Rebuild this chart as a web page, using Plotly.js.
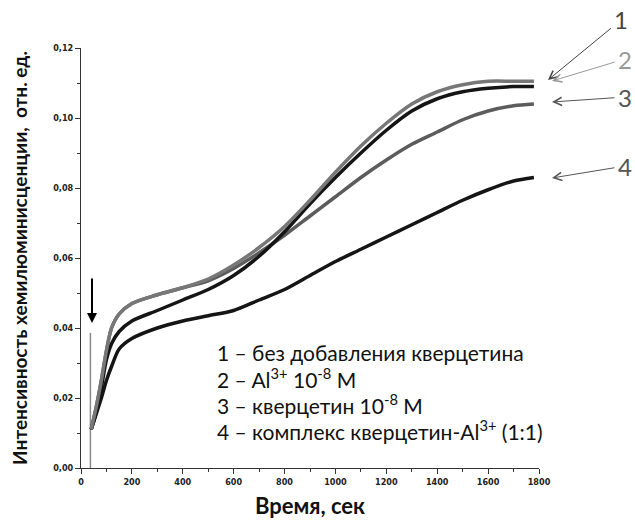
<!DOCTYPE html>
<html>
<head>
<meta charset="utf-8">
<script src="https://cdn.plot.ly/plotly-3.0.1.min.js"></script>
<style>
  html, body { margin: 0; padding: 0; background: #fff; }
  #chart { width: 635px; height: 521px; }
</style>
</head>
<body>
<div id="chart"></div>
<script>
// Time points, s
const time = [40, 60, 80, 100, 120, 150, 200, 300, 400, 500, 600, 700, 800, 900, 1000, 1100, 1200, 1300, 1400, 1500, 1600, 1700, 1780];

// 1 – без добавления кверцетина
const curve1 = [0.011, 0.016, 0.023, 0.031, 0.0355, 0.039, 0.042, 0.045, 0.048, 0.051, 0.055, 0.0605, 0.0675, 0.0755, 0.083, 0.090, 0.0965, 0.102, 0.1055, 0.1075, 0.1085, 0.109, 0.109];
// 2 – Al3+ 10-8 M
const curve2 = [0.011, 0.0175, 0.025, 0.0335, 0.040, 0.044, 0.047, 0.0495, 0.0515, 0.054, 0.058, 0.063, 0.069, 0.0765, 0.0845, 0.092, 0.0985, 0.104, 0.1075, 0.1095, 0.1105, 0.1105, 0.1105];
// 3 – кверцетин 10-8 M
const curve3 = [0.011, 0.0175, 0.025, 0.0335, 0.040, 0.044, 0.047, 0.0495, 0.0515, 0.0535, 0.057, 0.0615, 0.0665, 0.072, 0.0775, 0.083, 0.088, 0.0925, 0.096, 0.0995, 0.102, 0.1035, 0.104];
// 4 – комплекс кверцетин-Al3+ (1:1)
const curve4 = [0.011, 0.0155, 0.020, 0.025, 0.029, 0.034, 0.037, 0.040, 0.042, 0.0435, 0.045, 0.048, 0.051, 0.055, 0.059, 0.0625, 0.066, 0.0695, 0.073, 0.0765, 0.0795, 0.082, 0.083];

// Injection moment (vertical spike)
const spikeX = [37, 37];
const spikeY = [0, 0.0386];

const legendLines = [
  '1 – без добавления кверцетина',
  '2 – Al<sup>3+</sup> 10<sup>-8</sup> M',
  '3 – кверцетин 10<sup>-8</sup> M',
  '4 – комплекс кверцетин-Al<sup>3+</sup> (1:1)'
];
const curveLabels = ['1', '2', '3', '4'];
const yTitle = 'Интенсивность хемилюминисценции,  отн. ед.';
const xTitle = 'Время, сек';

const tickFont = {family: 'Liberation Sans Narrow, Arial Narrow, DejaVu Sans Condensed, sans-serif', size: 9, color: '#222', weight: 'bold'};

function lineTrace(y, color, width) {
  return {x: time, y: y, type: 'scatter', mode: 'lines', line: {color: color, width: width, shape: 'spline', smoothing: 0.8}, hoverinfo: 'skip', showlegend: false};
}

const traces = [
  {x: spikeX, y: spikeY, type: 'scatter', mode: 'lines', line: {color: '#8a8a8a', width: 1.5}, showlegend: false, hoverinfo: 'skip'},
  lineTrace(curve4, '#151515', 3.5),
  lineTrace(curve3, '#5c5c5c', 3.5),
  lineTrace(curve1, '#151515', 3.5),
  lineTrace(curve2, '#777777', 3.5)
];

// Plot area in pixels: x 81..539, y 48..468
const L = 81, R = 539, T = 48, B = 468;
function px(xp) { return (xp - L) / (R - L); }
function py(yp) { return (B - yp) / (B - T); }

const annotations = [];
// legend block
const legY = [352, 378, 404, 430];
legendLines.forEach((t, i) => {
  annotations.push({xref: 'paper', yref: 'paper', x: px(215), y: py(legY[i]), xanchor: 'left', yanchor: 'middle',
    text: t, showarrow: false, font: {family: 'Lato, Open Sans, sans-serif', size: 21, color: '#111'}});
});
// right labels, each with its arrow pointing at the curve end
const labColors = ['#444', '#999', '#555', '#555'];
const labPos = [[621, 20], [625, 59], [625, 97], [625, 166]];
const arrHead = [[548, 80], [552, 81], [552, 102], [552, 178]];
curveLabels.forEach((t, i) => {
  annotations.push({xref: 'paper', yref: 'paper', x: px(arrHead[i][0]), y: py(arrHead[i][1]),
    text: t, font: {family: 'Lato, Open Sans, sans-serif', size: 24, color: labColors[i]},
    showarrow: true, arrowhead: 5, arrowsize: 1.6, arrowwidth: 1, arrowcolor: labColors[i],
    ax: labPos[i][0] - arrHead[i][0], ay: labPos[i][1] - arrHead[i][1], standoff: 0, startstandoff: 2});
});
// down arrow marking the injection
annotations.push({xref: 'paper', yref: 'paper', x: px(92), y: py(323), text: '', showarrow: true,
  arrowhead: 2, arrowsize: 1, arrowwidth: 2, arrowcolor: '#000', ax: 0, ay: -46, standoff: 0});

const layout = {
  width: 635, height: 521,
  margin: {l: L, r: 635 - R, t: T, b: 521 - B},
  paper_bgcolor: '#fff', plot_bgcolor: '#fff',
  separators: ', ',
  showlegend: false,
  xaxis: {
    range: [0, 1800], showgrid: false, zeroline: false, showline: true, linecolor: '#333', linewidth: 1,
    ticks: 'outside', ticklen: 5, tickwidth: 1, tickcolor: '#333', dtick: 200, tick0: 0,
    minor: {dtick: 100, ticks: 'outside', ticklen: 3, tickcolor: '#333'},
    tickfont: tickFont,
    title: {text: xTitle, font: {family: 'Lato, Open Sans, sans-serif', size: 22, color: '#111', weight: 'bold'}, standoff: 12}
  },
  yaxis: {
    range: [0, 0.12], showgrid: false, zeroline: false, showline: true, linecolor: '#333', linewidth: 1,
    ticks: 'outside', ticklen: 5, tickwidth: 1, tickcolor: '#333', dtick: 0.02, tick0: 0, tickformat: '.2f',
    minor: {dtick: 0.01, ticks: 'outside', ticklen: 3, tickcolor: '#333'},
    tickfont: tickFont,
    title: {text: yTitle, font: {family: 'Lato, Open Sans, sans-serif', size: 19, color: '#111', weight: 'bold'}, standoff: 20}
  },
  annotations: annotations
};

Plotly.newPlot('chart', traces, layout, {staticPlot: true, displayModeBar: false});
</script>
</body>
</html>
